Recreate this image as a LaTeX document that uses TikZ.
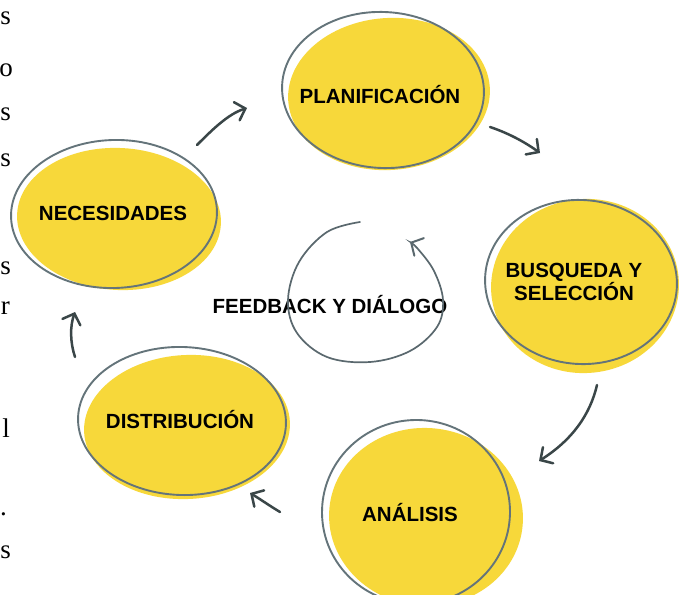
\documentclass[tikz,border=0pt]{standalone}
\usepackage{fontspec}
\setmainfont{Liberation Sans}
\newfontfamily\edgeserif{Liberation Serif}
\usetikzlibrary{arrows.meta}
\definecolor{blob}{RGB}{247,216,58}
\definecolor{rim}{RGB}{100,116,122}
\definecolor{ink}{RGB}{58,70,72}
\tikzset{
  blobfill/.style={fill=blob, draw=none},
  rimline/.style={draw=rim, line width=1.9pt},
  label/.style={font=\fontsize{20.5}{19.5}\selectfont\bfseries, text=black, align=center, inner sep=0pt},
  edgechar/.style={font=\edgeserif\fontsize{27}{27}\selectfont, text=black, inner sep=0pt, anchor=east},
  sketcharrow/.style={draw=ink, line width=2.5pt, line cap=round, line join=round,
    -{Straight Barb[length=9pt, width=19pt, line width=2.5pt, line cap=round]}},
  loopline/.style={draw=rim!90!black, line width=1.7pt, line cap=round,
    -{Straight Barb[length=9pt, width=20pt, line width=2pt, line cap=round]}}
}
\begin{document}
\begin{tikzpicture}[x=1pt,y=-1pt]
\useasboundingbox (0,0) rectangle (684,594);
\clip (0,0) rectangle (684,594);
\fill[white] (0,0) rectangle (684,594);

% yellow blobs
\fill[blobfill, rotate around={4:(389,94)}] (389,94) ellipse [x radius=101, y radius=76];
\fill[blobfill, rotate around={-3:(119,219)}] (119,219) ellipse [x radius=102, y radius=71];
\fill[blobfill, rotate around={6:(585,286)}] (585,286) ellipse [x radius=94, y radius=87];
\fill[blobfill, rotate around={-5:(426,517)}] (426,517) ellipse [x radius=97, y radius=89];
\fill[blobfill, rotate around={3:(187,427)}] (187,427) ellipse [x radius=103, y radius=72];

% outlines
\draw[rimline, rotate around={-3:(383,90)}] (383,90) ellipse [x radius=101, y radius=78];
\draw[rimline, rotate around={2:(114,214)}] (114,214) ellipse [x radius=103, y radius=74];
\draw[rimline, rotate around={-4:(581,282)}] (581,282) ellipse [x radius=96, y radius=82];
\draw[rimline, rotate around={4:(416,512)}] (416,512) ellipse [x radius=94, y radius=92];
\draw[rimline, rotate around={-2:(182,421)}] (182,421) ellipse [x radius=104, y radius=74];

% labels
\node[label] (plan) at (380,95) {PLANIFICACIÓN};
\node[label] (nec) at (113,213) {NECESIDADES};
\node[label] (busq) at (574,282) {BUSQUEDA Y\\SELECCIÓN};
\node[label] (anal) at (410,513) {ANÁLISIS};
\node[label] (dist) at (180,420) {DISTRIBUCIÓN};
\node[label] (feed) at (330,305) {FEEDBACK Y DIÁLOGO};

% connector end points
\coordinate (a1s) at (197,145); \coordinate (a1e) at (247,108);
\coordinate (a2s) at (490,127); \coordinate (a2e) at (540,153);
\coordinate (a3s) at (597,385); \coordinate (a3e) at (539,461);
\coordinate (a4s) at (280,512); \coordinate (a4e) at (250,493);
\coordinate (a5s) at (75,357);  \coordinate (a5e) at (75,312);

\draw[sketcharrow] (a1s) .. controls (212,130) and (228,114) .. (a1e);
\draw[sketcharrow] (a2s) .. controls (505,132) and (522,140) .. (a2e);
\draw[sketcharrow] (a3s) .. controls (590,415) and (572,440) .. (a3e);
\draw[sketcharrow] (a4s) .. controls (270,506) and (260,499) .. (a4e);
\draw[sketcharrow] (a5s) .. controls (70,342) and (70,326) .. (a5e);

% feedback loop
\draw[loopline] plot[smooth, tension=0.6] coordinates {(360,222) (327,232) (299,262) (288,300) (297,333) (327,357) (370,362) (410,351) (437,327) (443,300) (434,271) (418,249) (410,242)};

% stray characters at the left edge
\node[edgechar] (e1) at (11,18) {s};
\node[edgechar] (e2) at (13,70) {o};
\node[edgechar] (e3) at (11,114) {s};
\node[edgechar] (e4) at (11,160) {s};
\node[edgechar] (e5) at (11,268) {s};
\node[edgechar] (e6) at (10,308) {r};
\node[edgechar] (e7) at (10,428) {l};
\node[edgechar] (e8) at (7,514) {.};
\node[edgechar] (e9) at (11,552) {s};
\end{tikzpicture}
\end{document}
